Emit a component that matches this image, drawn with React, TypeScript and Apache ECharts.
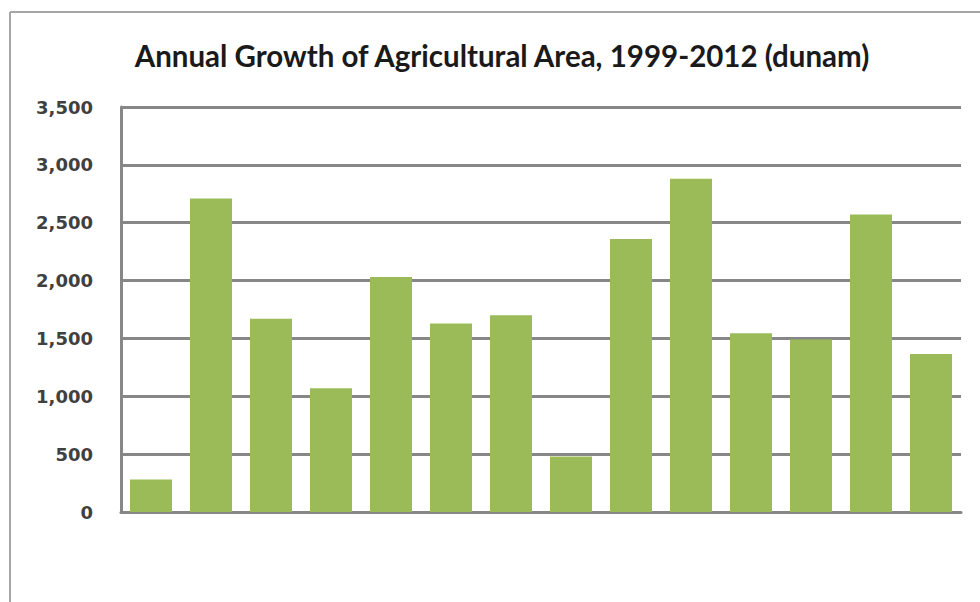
import React, { useEffect, useRef } from "react";
import * as echarts from "echarts";

const years = ["1999", "2000", "2001", "2002", "2003", "2004", "2005", "2006", "2007", "2008", "2009", "2010", "2011", "2012"];
const growth = [280, 2710, 1670, 1070, 2030, 1630, 1700, 480, 2360, 2880, 1545, 1490, 2570, 1365];
const titleText = "Annual Growth of Agricultural Area, 1999-2012 (dunam)";

export default function App() {
  const ref = useRef<HTMLDivElement>(null);
  useEffect(() => {
    if (!ref.current) return;
    const chart = echarts.init(ref.current, null, { renderer: "svg" });
    chart.setOption({
      animation: false,
      backgroundColor: "#ffffff",
      title: {
        text: titleText,
        left: 497,
        textAlign: "center",
        top: 35,
        textStyle: { fontFamily: "Lato", fontSize: 29.5, fontWeight: "bold", color: "#1a1a1a" },
      },
      graphic: [
        { type: "line", shape: { x1: 10, y1: 12, x2: 980, y2: 12 }, style: { stroke: "#a6a6a6", lineWidth: 2 } },
        { type: "line", shape: { x1: 10, y1: 12, x2: 10, y2: 602 }, style: { stroke: "#a6a6a6", lineWidth: 2 } },
      ],
      grid: { left: 121, right: 19, top: 107, bottom: 90, containLabel: false },
      xAxis: {
        type: "category",
        data: years,
        axisLabel: { show: false },
        axisTick: { show: false },
        axisLine: { lineStyle: { color: "#878787", width: 3 } },
      },
      yAxis: {
        type: "value",
        min: 0,
        max: 3500,
        interval: 500,
        axisLine: { show: true, lineStyle: { color: "#878787", width: 3 } },
        axisTick: { show: false },
        splitLine: { lineStyle: { color: "#878787", width: 3 } },
        axisLabel: {
          margin: 28,
          fontFamily: "DejaVu Sans",
          fontSize: 18,
          fontWeight: "bold",
          color: "#404040",
          formatter: (v: number) => v.toLocaleString("en-US"),
        },
      },
      series: [
        {
          type: "bar",
          data: growth,
          barCategoryGap: "30%",
          itemStyle: { color: "#9bbb59" },
        },
      ],
    });
    return () => chart.dispose();
  }, []);
  return <div ref={ref} style={{ width: 980, height: 602, position: "absolute", left: 0, top: 0 }} />;
}
